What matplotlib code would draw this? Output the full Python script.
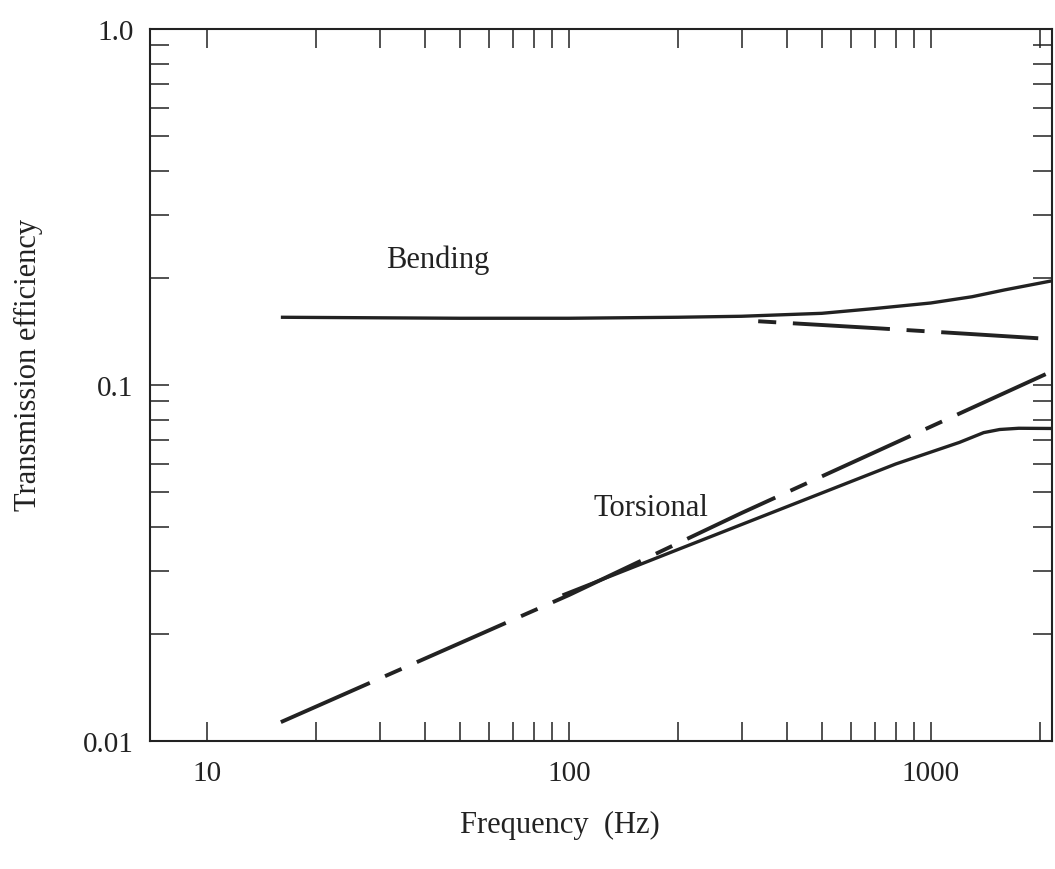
import matplotlib
matplotlib.use('Agg')
import matplotlib.pyplot as plt
from matplotlib.ticker import FixedLocator, NullFormatter

plt.rcParams["font.family"] = ["Liberation Serif", "DejaVu Serif"]
plt.rcParams["lines.scale_dashes"] = False

# 굽힘파 (Bending)
BEND_FREQ  = [16, 50, 100, 200, 300, 500, 700, 1000, 1300, 1600, 2150]
BEND_SOLID = [0.155, 0.154, 0.154, 0.155, 0.156, 0.159, 0.164, 0.170, 0.177, 0.185, 0.196]

BEND_DASH_FREQ = [300, 700, 1300, 2150]
BEND_DASH      = [0.152, 0.1445, 0.139, 0.1346]

# 비틀림파 (Torsional)
TORS_DASH_FREQ = [16, 100, 300, 1000, 2150]
TORS_DASH      = [0.0113, 0.0257, 0.0437, 0.0764, 0.109]

TORS_FREQ  = [96, 200, 400, 800, 1200, 1400, 1550, 1750, 2150]
TORS_SOLID = [0.0257, 0.0345, 0.0455, 0.060, 0.069, 0.0735, 0.0750, 0.0756, 0.0755]

X_TICKS  = [10, 100, 1000]
X_LABELS = ["10", "100", "1000"]
Y_TICKS  = [0.01, 0.1, 1.0]
Y_LABELS = ["0.01", "0.1", "1.0"]

INK = "#222222"
DASH = (70, 12, 13, 12)


def minor_ticks(lo, hi):
    out = []
    d = lo
    while d < hi:
        out += [k * d for k in range(2, 10)]
        d *= 10
    return out


def draw():
    fig = plt.figure(figsize=(10.55, 8.7), dpi=100)
    ax = fig.add_axes([0.1422, 0.1471, 0.9970 - 0.1422, 0.9655 - 0.1471])

    ax.plot(BEND_FREQ, BEND_SOLID, color=INK, lw=2.4, solid_capstyle="butt")
    ax.plot(BEND_DASH_FREQ, BEND_DASH, color=INK, lw=2.8,
            linestyle=(DASH[0], DASH), dash_capstyle="butt")
    ax.plot(TORS_DASH_FREQ, TORS_DASH, color=INK, lw=2.8,
            linestyle=(0, DASH), dash_capstyle="butt")
    ax.plot(TORS_FREQ, TORS_SOLID, color=INK, lw=2.4, solid_capstyle="butt")

    ax.set_xscale("log")
    ax.set_yscale("log")
    ax.set_xlim(6.96, 2160)
    ax.set_ylim(0.01, 1.0)

    # 10 Hz 아래로는 보조 눈금 없음
    ax.xaxis.set_major_locator(FixedLocator(X_TICKS))
    ax.yaxis.set_major_locator(FixedLocator(Y_TICKS))
    ax.set_xticklabels(X_LABELS)
    ax.set_yticklabels(Y_LABELS)
    ax.xaxis.set_minor_locator(FixedLocator(minor_ticks(10, 10000)))
    ax.yaxis.set_minor_locator(FixedLocator(minor_ticks(0.01, 1)))
    ax.xaxis.set_minor_formatter(NullFormatter())
    ax.yaxis.set_minor_formatter(NullFormatter())

    ax.tick_params(which="both", direction="in", top=True, right=True,
                   length=14, width=1.1, color=INK)
    ax.tick_params(axis="x", which="major", pad=14, labelsize=21, labelcolor=INK)
    ax.tick_params(axis="y", which="major", pad=12, labelsize=21, labelcolor=INK)
    for sp in ax.spines.values():
        sp.set_linewidth(1.5)
        sp.set_color(INK)

    ax.text(43.5, 0.226, "Bending", fontsize=22, color=INK, ha="center", va="center")
    ax.text(169, 0.0454, "Torsional", fontsize=22, color=INK, ha="center", va="center")

    fig.text(560 / 1055, 1 - 825 / 870, "Frequency  (Hz)", fontsize=22, color=INK,
             ha="center", va="center")
    fig.text(28 / 1055, 1 - 365 / 870, "Transmission efficiency", fontsize=22,
             color=INK, rotation=90, ha="center", va="center")

    fig.savefig("out.png", dpi=100)
    plt.close(fig)


if __name__ == "__main__":
    draw()
